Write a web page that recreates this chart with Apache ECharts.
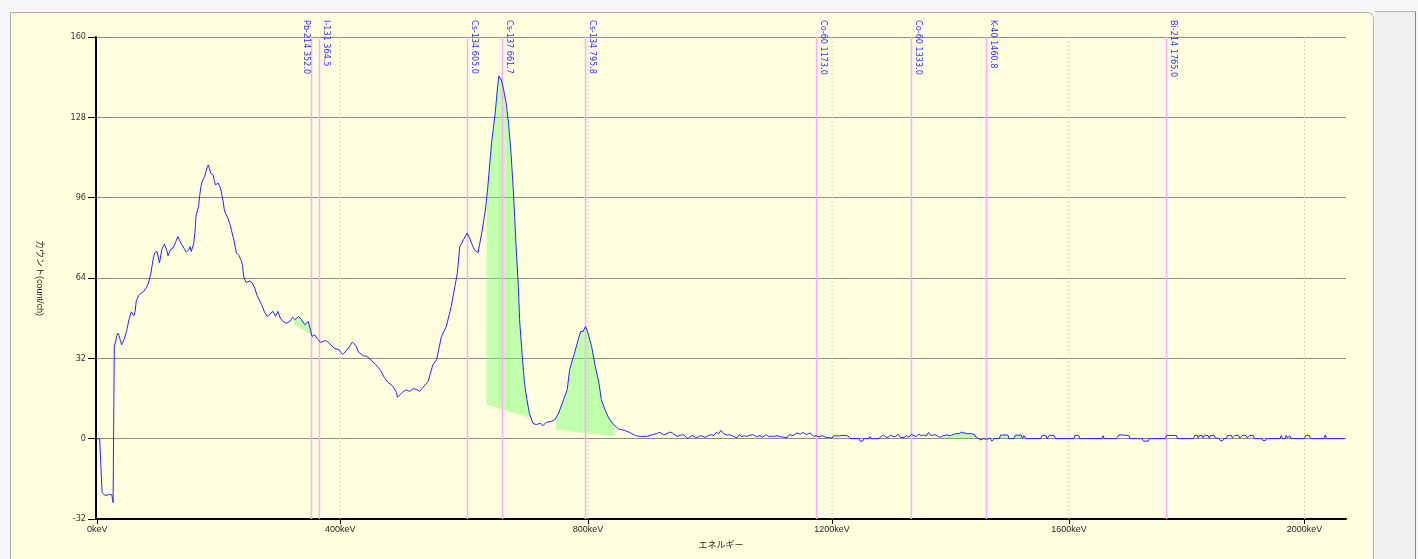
<!DOCTYPE html>
<html>
<head>
<meta charset="utf-8">
<title>ガンマ線スペクトル</title>
<script src="https://cdn.jsdelivr.net/npm/echarts@6/dist/echarts.min.js"></script>
<style>
  html, body { margin: 0; padding: 0; width: 1418px; height: 559px; overflow: hidden; background: #f7f7f7; }
  #frame { position: absolute; left: 10px; top: 12px; width: 1364px; height: 560px; background: #ffffe0;
           border: 1px solid #b0b0b0; border-radius: 0 7px 0 0; box-sizing: border-box; }
  #side { position: absolute; left: 1375px; top: 11px; width: 41px; height: 548px; background: #efefef;
          border-top: 1px solid #b8b8b8; border-right: 1px solid #8c8c8c; box-sizing: border-box; }
  #chart { position: absolute; left: 0; top: 0; width: 1418px; height: 559px; }
</style>
</head>
<body>
<div id="frame"></div>
<div id="side"></div>
<div id="chart"></div>
<script>
// Spectrum: [channel, count/ch]
const spectrum = [
  [0,0],[3,0],[4,0],[5,-21.5],[6,-22],[7,-22.5],[8,-21.8],[9,-22.5],[10,-22.8],[11,-22.2],[12,-22.6],[13,-22.4],[14,-25.5],
  [15,37],[16,38.5],[17,41],[18,42],[19,41],[20,39],[21,37.4],[23,39.5],[25,42.7],[27,47.4],[29,50.5],[31,49],[32,50.5],
  [33,55],[35,57],[37,58],[39,58.6],[41,60],[43,62],[45,66],[47,72],[48,74],[50,74.6],[52,70],[54,75.5],[56,77.5],
  [58,75],[59,72.8],[61,75.3],[63,75.9],[65,78],[67,80.5],[68,81],[70,77.5],[72,75.9],[74,74.3],[76,75.2],[77,76.5],
  [78,74.6],[80,77.5],[81,82],[82,89],[84,92.5],[85,97],[86,100.4],[87,102.5],[89,104.5],[91,108],[92,109],[93,107.5],
  [94,105.7],[96,105],[97,102.5],[98,101.1],[100,101.8],[102,99.8],[104,95],[105,91.5],[106,89.8],[108,88],[110,85],
  [111,83],[113,79],[115,74],[117,73],[119,71],[120,69],[121,64.5],[123,62.2],[126,62.8],[128,62],[130,60],[132,57],
  [134,55],[136,53],[138,50.5],[140,48.7],[142,49.4],[145,50.7],[147,48.7],[149,50.7],[151,48],[153,46.7],[156,46],
  [159,46.7],[161,48.4],[163,47.4],[166,48.7],[168,47.6],[171,45.4],[174,46.7],[175,44.5],[176,42.7],[177,40.7],
  [179,41.4],[182,39.4],[184,38.3],[188,39.1],[191,38.1],[195,36.1],[199,35.4],[202,33.5],[205,35],[208,37],[210,38.5],
  [213,37],[215,34.5],[219,33],[222,32.8],[226,31],[229,29.5],[233,27.3],[236,24.5],[239,22.5],[243,21],[246,18.5],
  [247,16.5],[249,17.5],[251,18.5],[254,19.5],[257,18.8],[260,20],[263,19.5],[265,18.8],[268,20.5],[272,22.8],
  [276,29.5],[279,31.4],[283,40.7],[287,44.7],[291,52.7],[294,60.6],[296,65.9],[298,76.5],[301,79.2],[304,81.9],
  [306,79.9],[308,77.5],[310,75.2],[313,74.1],[316,81.9],[319,91.1],[321,100.4],[324,117.7],[327,129.6],[329,140.2],
  [330,144.5],[332,142.9],[334,138.9],[336,133.6],[338,125.6],[340,113.7],[342,97.8],[344,77.9],[346,60.6],[347,47.4],
  [349,34.1],[351,22.2],[353,15.5],[355,10.2],[358,6],[361,5.6],[364,6.2],[366,5.2],[369,6.5],[373,6.9],[376,7.6],
  [379,10.2],[383,15.5],[386,19.5],[388,27.5],[392,34.1],[395,39.4],[397,42.7],[399,42.7],[401,44.7],[403,42.1],
  [406,36.7],[409,28.8],[412,22.2],[414,15.5],[417,11.5],[420,8.2],[424,5.6],[428,3.9],[433,3.3],[437,2.5],[439,2],
  [442,1.2],[446,0.9],[451,0.9],[456,1.6],[459,2.0],[462,2.5],[465,1.5],[467,1.8],[470,2.6],[472,2.3],[476,0.9],
  [479,1.4],[481,1.6],[483,0.8],[485,0],[487,1.0],[489,1.2],[491,0.5],[493,0.6],[495,1.2],[497,0.9],[499,0.5],
  [501,1.1],[504,1.6],[506,1.2],[508,2.5],[510,2.0],[512,3.3],[514,2.0],[515,2.3],[517,1.4],[519,1.6],[522,1.0],
  [525,0.3],[527,1.6],[529,0.8],[531,1.2],[533,0.9],[536,1.4],[538,1.6],[541,0.8],[544,1.2],[546,0.6],[549,1.6],
  [551,0.8],[553,1.0],[555,0.9],[558,1.2],[560,0.9],[563,0.6],[566,0.3],[568,1.6],[571,1.2],[574,2.3],[577,1.8],
  [579,2.5],[582,1.6],[585,2.3],[588,0.9],[590,1.2],[592,0.7],[595,1.2],[598,0.5],[601,0.5],[603,0.2],[604,1.1],
  [609,1.1],[612,1.3],[616,1.1],[618,0],[625,0],[626,-1],[628,-1],[629,0],[633,0],[634,0.8],[635,0],[641,0],
  [642,0.5],[645,1.5],[647,0.6],[649,0.5],[651,1.5],[653,0.8],[655,0.8],[657,1.8],[659,0.5],[662,0.5],[664,1.2],
  [666,0.6],[668,1.8],[670,1.2],[672,0.8],[674,1.8],[676,1.2],[678,1.5],[680,1.0],[682,2.5],[684,1.2],[686,1.5],
  [688,1.5],[690,0.8],[692,0.6],[694,1.2],[697,1.5],[700,1.2],[702,1.6],[704,2.0],[707,2.0],[709,2.6],[711,2.3],
  [714,2.0],[717,2.0],[720,1.5],[721,0.5],[723,0],[725,-0.5],[727,0],[730,-0.3],[732,0.3],[734,-1],[736,0],[740,0],
  [741,1.4],[742,1.5],[747,1.5],[748,0],[752,0],[753,1.4],[758,1.4],[759,0],[760,1.3],[762,0],[774,0],[775,1.3],
  [778,1.3],[779,0],[780,0],[781,1.3],[785,1.3],[786,0],[801,0],[802,1.3],[805,1.3],[806,0],[824,0],[825,1.2],
  [826,0],[836,0],[838,1.5],[846,1.3],[847,0],[857,0],[858,-1],[862,-1],[863,0],[876,0],[877,1.3],[885,1.3],[886,0],
  [899,0],[900,1.3],[902,1.3],[903,0.3],[904,1.3],[906,1.3],[907,0.3],[908,1.3],[911,1.3],[912,0.2],[913,1.3],
  [916,1.3],[917,0.3],[918,0],[920,0],[921,-0.8],[923,-0.8],[924,0],[926,0],[927,1.3],[930,1.3],[931,0.3],[933,1.3],
  [936,1.3],[937,0.3],[939,1.3],[942,1.3],[943,0.3],[945,1.3],[948,1.3],[949,0],[955,0],[956,-0.8],[958,-0.8],
  [959,0],[970,0],[971,1.3],[972,0],[973,-0.6],[974,0],[975,1.3],[976,0.2],[977,-0.4],[978,1.2],[979,0],[990,0],
  [991,1.3],[994,1.3],[995,0],[1006,0],[1007,1.5],[1008,0],[1023,0]
];

const channelCount = 1024;

// Energy calibration (keV -> channel)
const calEnergy  = [0, 400, 800, 1200, 1600, 2000];
const calChannel = [1, 200, 403, 603, 797, 990];

// Energy axis ticks
const tickEnergies = [0, 400, 800, 1200, 1600, 2000];

// Count axis
const countMin = -32, countMax = 160, countStep = 32;

// Nuclide reference lines
const nuclideNames    = ['Pb-214', 'I-131', 'Cs-134', 'Cs-137', 'Cs-134', 'Co-60', 'Co-60', 'K-40', 'Bi-214'];
const nuclideEnergies = [352.0, 364.5, 605.0, 661.7, 795.8, 1173.0, 1333.0, 1460.8, 1765.0];

// Peak regions of interest: channel range and baseline counts at both ends
const roiStart     = [162, 320, 377, 694];
const roiEnd       = [176, 356, 425, 763];
const roiBaseStart = [45.5, 13.5, 3.6, 0.2];
const roiBaseEnd   = [41.5, 8.2, 0.9, 0.2];

function keVToChannel(e) {
  let i = 0;
  while (i < calEnergy.length - 2 && e > calEnergy[i + 1]) i++;
  const t = (e - calEnergy[i]) / (calEnergy[i + 1] - calEnergy[i]);
  return calChannel[i] + t * (calChannel[i + 1] - calChannel[i]);
}

function spectrumAt(ch) {
  for (let i = 0; i < spectrum.length - 1; i++) {
    const a = spectrum[i], b = spectrum[i + 1];
    if (ch >= a[0] && ch <= b[0]) {
      return a[1] + (b[1] - a[1]) * (ch - a[0]) / (b[0] - a[0]);
    }
  }
  return 0;
}

const tickChannels = tickEnergies.map(keVToChannel);
const nuclideChannels = nuclideEnergies.map(keVToChannel);

const fontUI = "'Liberation Sans', 'Noto Sans CJK JP', sans-serif";
const fontLabel = "'Liberation Sans Narrow', 'DejaVu Sans Condensed', 'Liberation Sans', sans-serif";

const chart = echarts.init(document.getElementById('chart'), null, { renderer: 'canvas' });

chart.setOption({
  backgroundColor: 'transparent',
  animation: false,
  grid: { left: 96, right: 72, top: 37, bottom: 40, containLabel: false },
  xAxis: {
    type: 'value',
    min: 0,
    max: channelCount,
    name: 'エネルギー',
    nameLocation: 'middle',
    nameGap: 22,
    nameTextStyle: { fontSize: 9, color: '#222', fontFamily: fontUI },
    axisLine: { show: true, onZero: false, lineStyle: { color: '#000', width: 2 } },
    axisTick: { show: true, customValues: tickChannels, length: 5, lineStyle: { color: '#000', width: 1 } },
    axisLabel: {
      customValues: tickChannels,
      fontSize: 9,
      color: '#222',
      fontFamily: fontUI,
      margin: 6,
      formatter: function (v) {
        let best = 0;
        tickChannels.forEach((c, i) => { if (Math.abs(c - v) < Math.abs(tickChannels[best] - v)) best = i; });
        return tickEnergies[best] + 'keV';
      }
    },
    splitLine: { show: false }
  },
  yAxis: {
    type: 'value',
    min: countMin,
    max: countMax,
    interval: countStep,
    name: 'カウント(count/ch)',
    nameLocation: 'middle',
    nameGap: 52,
    nameRotate: -90,
    nameTextStyle: { fontSize: 9, color: '#222', fontFamily: fontUI },
    axisLine: { show: true, onZero: false, lineStyle: { color: '#000', width: 2 } },
    axisTick: { show: true, length: 8, lineStyle: { color: '#000', width: 1 } },
    axisLabel: { fontSize: 9, color: '#333', fontFamily: fontLabel, margin: 10 },
    splitLine: { show: true, lineStyle: { color: '#8c8c8c', width: 1 } }
  },
  series: [
    {
      // dashed energy grid lines
      type: 'custom',
      silent: true,
      z: 1,
      data: tickChannels.filter((c, i) => tickEnergies[i] > 0).map(c => [c]),
      renderItem: function (params, api) {
        const top = api.coord([api.value(0), countMax]);
        const bot = api.coord([api.value(0), countMin]);
        return {
          type: 'line',
          shape: { x1: top[0], y1: top[1], x2: bot[0], y2: bot[1] },
          style: { stroke: '#cfcfcf', lineWidth: 1, lineDash: [2, 2] }
        };
      }
    },
    {
      // peak areas above their baselines
      type: 'custom',
      silent: true,
      z: 2,
      data: roiStart.map((s, i) => [s, roiEnd[i], roiBaseStart[i], roiBaseEnd[i]]),
      encode: { x: [0, 1], y: [2, 3] },
      renderItem: function (params, api) {
        const s = api.value(0), e = api.value(1), b0 = api.value(2), b1 = api.value(3);
        const base = c => b0 + (b1 - b0) * (c - s) / (e - s);
        const xs = [s].concat(spectrum.map(p => p[0]).filter(c => c > s && c < e), [e]);
        const pts = xs.map(c => api.coord([c, Math.max(spectrumAt(c), base(c))]));
        pts.push(api.coord([e, b1]));
        pts.push(api.coord([s, b0]));
        return {
          type: 'polygon',
          shape: { points: pts },
          style: { fill: 'rgba(120,255,110,0.45)' }
        };
      }
    },
    {
      // nuclide reference lines with labels
      type: 'custom',
      silent: true,
      z: 3,
      data: nuclideChannels.map((c, i) => [c, i]),
      renderItem: function (params, api) {
        const ch = api.value(0);
        const i = api.value(1);
        const top = api.coord([ch, countMax]);
        const bot = api.coord([ch, countMin]);
        const x = Math.round(top[0]) + 0.5;
        const next = nuclideChannels[i + 1];
        const crowded = next !== undefined && (api.coord([next, 0])[0] - top[0]) < 12;
        return {
          type: 'group',
          children: [
            {
              type: 'line',
              shape: { x1: x, y1: top[1], x2: x, y2: bot[1] },
              style: { stroke: '#ffaaff', lineWidth: 1.5 }
            },
            {
              type: 'text',
              x: crowded ? x - 1 : x + 2,
              y: 20,
              rotation: -Math.PI / 2,
              style: {
                text: nuclideNames[i] + ' ' + nuclideEnergies[i].toFixed(1),
                fill: '#2f2fff',
                font: '9px ' + fontLabel,
                align: 'left',
                verticalAlign: crowded ? 'top' : 'bottom',
                textAlign: 'left',
                textVerticalAlign: crowded ? 'top' : 'bottom'
              }
            }
          ]
        };
      }
    },
    {
      name: 'スペクトル',
      type: 'line',
      z: 4,
      data: spectrum,
      showSymbol: false,
      symbol: 'none',
      clip: true,
      lineStyle: { color: '#2424ff', width: 1 },
      silent: true
    }
  ]
});
</script>
</body>
</html>
